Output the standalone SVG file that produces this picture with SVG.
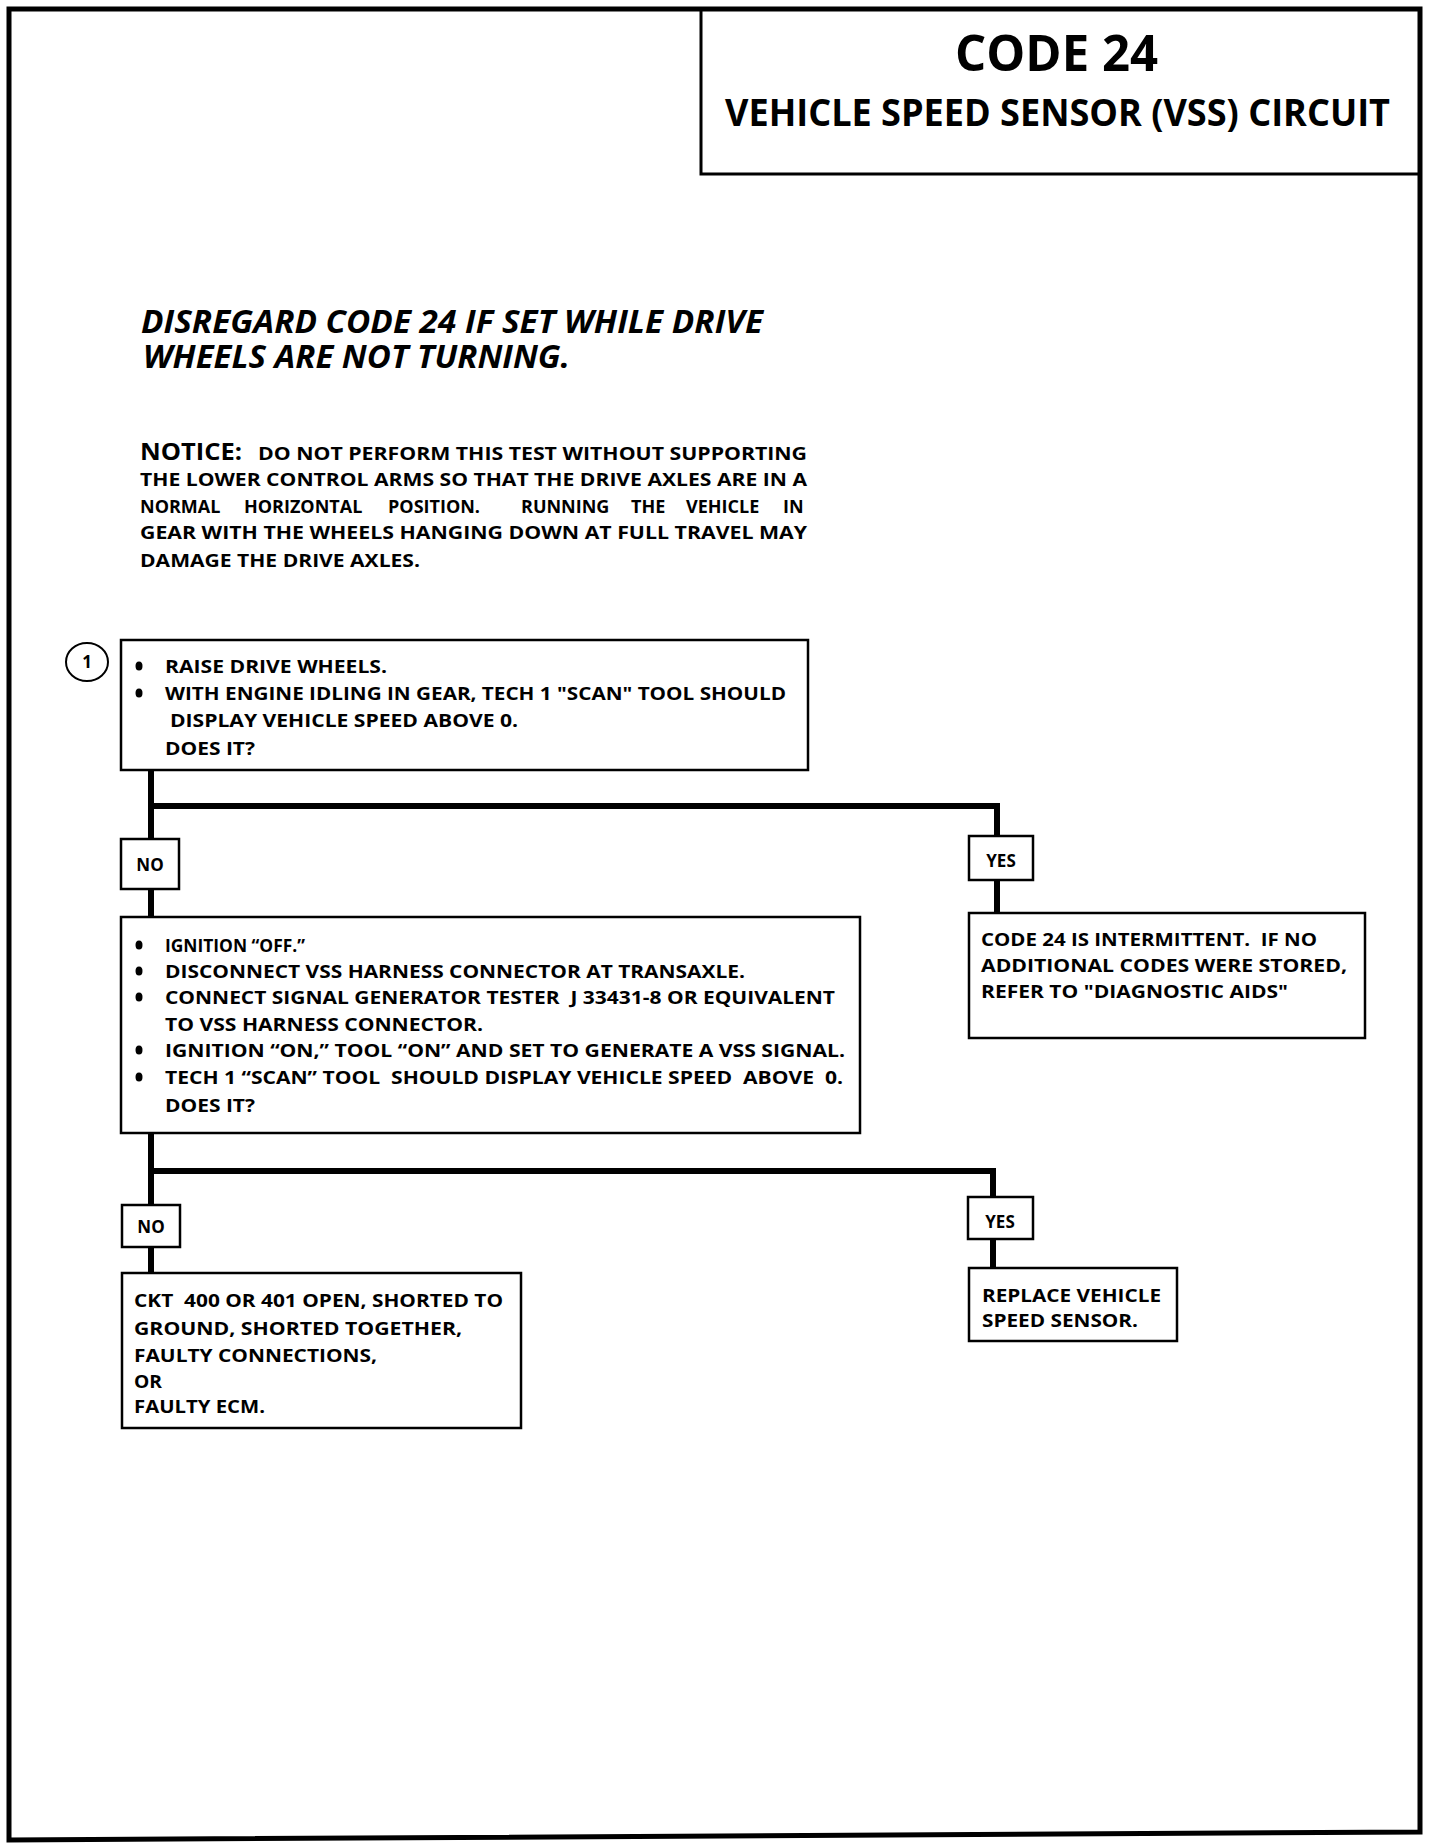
<svg xmlns="http://www.w3.org/2000/svg" width="1440" height="1846" viewBox="0 0 1440 1846">
<style>
text{font-family:"Open Sans","Liberation Sans",sans-serif;font-weight:bold;fill:#000}
.t{font-size:18px}
.lab{font-size:17px;text-anchor:middle}
.box{fill:#fff;stroke:#000;stroke-width:2.5}
.con{fill:none;stroke:#000;stroke-width:6;stroke-linejoin:miter;stroke-linecap:butt}
.b{fill:#000}
</style>
<rect width="1440" height="1846" fill="#fff"/>
<path d="M9,9 L1420,9 L1420,1832 L9,1840 Z" fill="none" stroke="#000" stroke-width="5"/>
<g id="title">
<path d="M701,9 L701,174 L1420,174" fill="none" stroke="#000" stroke-width="3"/>
<text x="955" y="71" font-size="50" textLength="203" lengthAdjust="spacingAndGlyphs">CODE 24</text>
<text x="725" y="126" font-size="38" textLength="665" lengthAdjust="spacingAndGlyphs">VEHICLE SPEED SENSOR (VSS) CIRCUIT</text>
</g>
<g id="heading">
<text x="141" y="333" font-size="32" font-style="italic" textLength="622" lengthAdjust="spacingAndGlyphs">DISREGARD CODE 24 IF SET WHILE DRIVE</text>
<text x="143" y="368" font-size="32" font-style="italic" textLength="427" lengthAdjust="spacingAndGlyphs">WHEELS ARE NOT TURNING.</text>
</g>
<g id="notice">
<text x="140" y="460" font-size="24" textLength="102" lengthAdjust="spacingAndGlyphs">NOTICE:</text>
<text class="t" x="258" y="460" textLength="549" lengthAdjust="spacingAndGlyphs">DO NOT PERFORM THIS TEST WITHOUT SUPPORTING</text>
<text class="t" x="140" y="486" textLength="667" lengthAdjust="spacingAndGlyphs">THE LOWER CONTROL ARMS SO THAT THE DRIVE AXLES ARE IN A</text>
<text class="t" y="513"><tspan x="140">NORMAL</tspan><tspan x="244">HORIZONTAL</tspan><tspan x="388">POSITION.</tspan><tspan x="521">RUNNING</tspan><tspan x="631">THE</tspan><tspan x="686">VEHICLE</tspan><tspan x="783">IN</tspan></text>
<text class="t" x="140" y="539" textLength="667" lengthAdjust="spacingAndGlyphs">GEAR WITH THE WHEELS HANGING DOWN AT FULL TRAVEL MAY</text>
<text class="t" x="140" y="567" textLength="280" lengthAdjust="spacingAndGlyphs">DAMAGE THE DRIVE AXLES.</text>
</g>
<g id="connectors">
<path class="con" d="M151,770 V839 M151,806 H997 V836 M151,889 V917 M997,880 V913"/>
<path class="con" d="M151,1133 V1205 M151,1171 H993 V1197 M151,1247 V1273 M993,1239 V1268"/>
</g>
<g id="step1">
<ellipse cx="87" cy="662" rx="21" ry="19" fill="#fff" stroke="#000" stroke-width="2"/>
<text x="87" y="668" font-size="17" text-anchor="middle">1</text>
<rect class="box" x="121" y="640" width="687" height="130"/>
<ellipse class="b" cx="139" cy="666" rx="3.5" ry="4.5"/>
<ellipse class="b" cx="139" cy="693" rx="3.5" ry="4.5"/>
<text class="t" x="165" y="673" textLength="222" lengthAdjust="spacingAndGlyphs">RAISE DRIVE WHEELS.</text>
<text class="t" x="165" y="700" textLength="621" lengthAdjust="spacingAndGlyphs">WITH ENGINE IDLING IN GEAR, TECH 1 "SCAN" TOOL SHOULD</text>
<text class="t" x="170" y="727" textLength="348" lengthAdjust="spacingAndGlyphs">DISPLAY VEHICLE SPEED ABOVE 0.</text>
<text class="t" x="165" y="755" textLength="90" lengthAdjust="spacingAndGlyphs">DOES IT?</text>
</g>
<g id="no1">
<rect class="box" x="121" y="839" width="58" height="50"/>
<text class="lab" x="150" y="871">NO</text>
</g>
<g id="yes1">
<rect class="box" x="969" y="836" width="64" height="44"/>
<text class="lab" x="1001" y="867">YES</text>
</g>
<g id="step2">
<rect class="box" x="121" y="917" width="739" height="216"/>
<ellipse class="b" cx="139" cy="945" rx="3.5" ry="4.5"/>
<ellipse class="b" cx="139" cy="971" rx="3.5" ry="4.5"/>
<ellipse class="b" cx="139" cy="997" rx="3.5" ry="4.5"/>
<ellipse class="b" cx="139" cy="1050" rx="3.5" ry="4.5"/>
<ellipse class="b" cx="139" cy="1077" rx="3.5" ry="4.5"/>
<text class="t" x="165" y="952" textLength="140" lengthAdjust="spacingAndGlyphs">IGNITION “OFF.”</text>
<text class="t" x="165" y="978" textLength="580" lengthAdjust="spacingAndGlyphs">DISCONNECT VSS HARNESS CONNECTOR AT TRANSAXLE.</text>
<text class="t" x="165" y="1004" textLength="670" lengthAdjust="spacingAndGlyphs" xml:space="preserve">CONNECT SIGNAL GENERATOR TESTER  J 33431-8 OR EQUIVALENT</text>
<text class="t" x="165" y="1031" textLength="318" lengthAdjust="spacingAndGlyphs">TO VSS HARNESS CONNECTOR.</text>
<text class="t" x="165" y="1057" textLength="680" lengthAdjust="spacingAndGlyphs">IGNITION “ON,” TOOL “ON” AND SET TO GENERATE A VSS SIGNAL.</text>
<text class="t" x="165" y="1084" textLength="678" lengthAdjust="spacingAndGlyphs" xml:space="preserve">TECH 1 “SCAN” TOOL  SHOULD DISPLAY VEHICLE SPEED  ABOVE  0.</text>
<text class="t" x="165" y="1112" textLength="90" lengthAdjust="spacingAndGlyphs">DOES IT?</text>
</g>
<g id="intermittent">
<rect class="box" x="969" y="913" width="396" height="125"/>
<text class="t" x="981" y="946" textLength="336" lengthAdjust="spacingAndGlyphs" xml:space="preserve">CODE 24 IS INTERMITTENT.  IF NO</text>
<text class="t" x="981" y="972" textLength="366" lengthAdjust="spacingAndGlyphs">ADDITIONAL CODES WERE STORED,</text>
<text class="t" x="981" y="998" textLength="307" lengthAdjust="spacingAndGlyphs">REFER TO "DIAGNOSTIC AIDS"</text>
</g>
<g id="no2">
<rect class="box" x="122" y="1205" width="58" height="42"/>
<text class="lab" x="151" y="1233">NO</text>
</g>
<g id="yes2">
<rect class="box" x="968" y="1197" width="65" height="42"/>
<text class="lab" x="1000" y="1228">YES</text>
</g>
<g id="ckt">
<rect class="box" x="122" y="1273" width="399" height="155"/>
<text class="t" x="134" y="1307" textLength="369" lengthAdjust="spacingAndGlyphs" xml:space="preserve">CKT  400 OR 401 OPEN, SHORTED TO</text>
<text class="t" x="134" y="1335" textLength="328" lengthAdjust="spacingAndGlyphs">GROUND, SHORTED TOGETHER,</text>
<text class="t" x="134" y="1362" textLength="243" lengthAdjust="spacingAndGlyphs">FAULTY CONNECTIONS,</text>
<text class="t" x="134" y="1388" textLength="28" lengthAdjust="spacingAndGlyphs">OR</text>
<text class="t" x="134" y="1413" textLength="131" lengthAdjust="spacingAndGlyphs">FAULTY ECM.</text>
</g>
<g id="replace">
<rect class="box" x="969" y="1268" width="208" height="73"/>
<text class="t" x="982" y="1302" textLength="179" lengthAdjust="spacingAndGlyphs">REPLACE VEHICLE</text>
<text class="t" x="982" y="1327" textLength="156" lengthAdjust="spacingAndGlyphs">SPEED SENSOR.</text>
</g>
</svg>
